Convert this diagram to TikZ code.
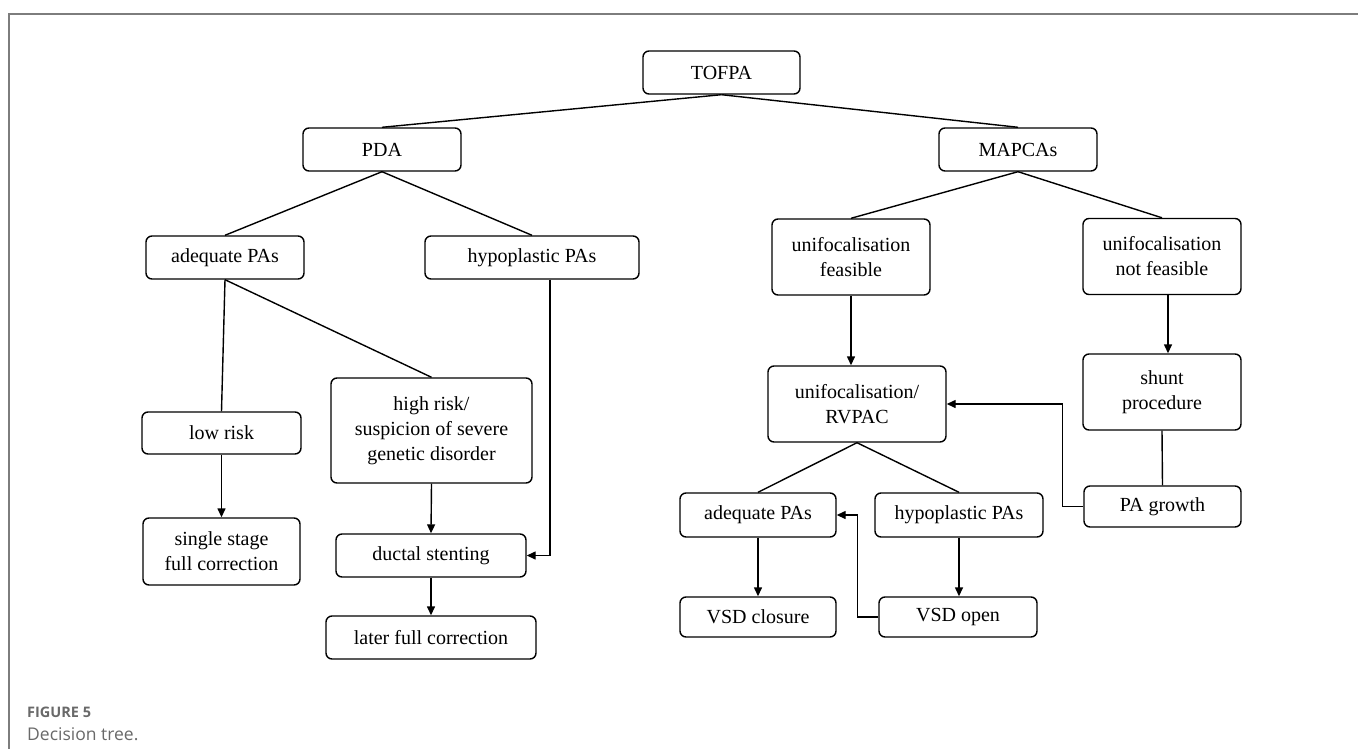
\documentclass[tikz,border=0pt]{standalone}
\usepackage{fontspec}
\setmainfont{Liberation Serif}
\newfontfamily\capfont{Open Sans}
\usetikzlibrary{arrows.meta}
\definecolor{framegray}{RGB}{125,125,125}
\definecolor{captiongray}{RGB}{105,105,105}

\begin{document}
\begin{tikzpicture}[x=1pt, y=-1pt,
    box/.style={draw, rounded corners=6pt, line width=1.4pt, align=center,
        inner sep=0pt, font=\fontsize{20}{25}\selectfont},
    link/.style={line width=1.4pt},
    arr/.style={line width=1.4pt, -{Triangle[length=9pt,width=8pt]}}]

\useasboundingbox (0,0) rectangle (1358,749);

% Frame (top and left only)
\draw[framegray, line width=2pt] (9,749) -- (9,13.7) -- (1358,13.7);

% Root
\node[box, minimum width=157, minimum height=43] (tofpa) at (721.5,72.5) {TOFPA};

% First split
\node[box, minimum width=158, minimum height=43] (pda) at (382,149.5) {PDA};
\node[box, minimum width=158, minimum height=43] (mapcas) at (1018,149.5) {MAPCAs};

% PDA branch
\node[box, minimum width=158, minimum height=43] (adeqL) at (225,257.5) {adequate PAs};
\node[box, minimum width=214, minimum height=43] (hypoL) at (532,257.5) {hypoplastic PAs};
\node[box, minimum width=159, minimum height=42] (lowrisk) at (221.5,433) {low risk};
\node[box, minimum width=157, minimum height=67] (single) at (221.5,551.5) {single stage\\full correction};
\node[box, minimum width=201, minimum height=105] (highrisk) at (431.5,430.5) {high risk/\\suspicion of severe\\genetic disorder};
\node[box, minimum width=190, minimum height=43] (ductal) at (431,555.5) {ductal stenting};
\node[box, minimum width=210, minimum height=43] (later) at (431,637.5) {later full correction};

% MAPCAs branch
\node[box, minimum width=158, minimum height=76] (unifF) at (851,257) {unifocalisation\\feasible};
\node[box, minimum width=158, minimum height=76] (unifNF) at (1162,256.5) {unifocalisation\\not feasible};
\node[box, minimum width=178, minimum height=76] (rvpac) at (857,404) {unifocalisation/\\RVPAC};
\node[box, minimum width=158, minimum height=76] (shunt) at (1162,392) {shunt\\procedure};
\node[box, minimum width=157, minimum height=41] (growth) at (1162.5,506.5) {PA growth};
\node[box, minimum width=156, minimum height=44] (adeqR) at (758,515) {adequate PAs};
\node[box, minimum width=168, minimum height=44] (hypoR) at (959,515) {hypoplastic PAs};
\node[box, minimum width=156, minimum height=40] (vsdC) at (758,617) {VSD closure};
\node[box, minimum width=158, minimum height=40] (vsdO) at (958,617) {VSD open};

% Tree lines
\draw[link] (tofpa.south) -- (pda.north);
\draw[link] (tofpa.south) -- (mapcas.north);
\draw[link] (pda.south) -- (adeqL.north);
\draw[link] (pda.south) -- (hypoL.north);
\draw[link] (mapcas.south) -- (unifF.north);
\draw[link] (mapcas.south) -- (unifNF.north);
\draw[link] (adeqL.south) -- (lowrisk.north);
\draw[link] (adeqL.south) -- (highrisk.north);
\draw[link] (rvpac.south) -- (adeqR.north);
\draw[link] (rvpac.south) -- (hypoR.north);
\draw[link] (shunt.south) -- (growth.north);

% Arrows
\draw[arr] (lowrisk.south) -- (single.north);
\draw[arr] (highrisk.south) -- (ductal.north);
\draw[arr] (ductal.south) -- (later.north);
\draw[arr] ([xshift=18pt]hypoL.south) |- (ductal.east);
\draw[arr] (unifF.south) -- (unifF.south |- rvpac.north);
\draw[arr] ([xshift=6pt]unifNF.south) -- ([xshift=6pt]shunt.north);
\draw[arr] (adeqR.south) -- (vsdC.north);
\draw[arr] (hypoR.south) -- (hypoR.south |- vsdO.north);

% Feedback arrows
\draw[arr] (growth.west) -- ++(-21,0) |- (rvpac.east);
\draw[arr] (vsdO.west) -- ++(-21,0) |- (adeqR.east);

% Caption
\node[anchor=base west, inner sep=0pt, text=captiongray,
    font=\capfont\bfseries\fontsize{14.5}{17}\selectfont] (figlabel) at (27,717) {FIGURE 5};
\node[anchor=base west, inner sep=0pt, text=captiongray,
    font=\capfont\fontsize{17.5}{21}\selectfont] (figtitle) at (27,740) {Decision tree.};

\end{tikzpicture}
\end{document}
